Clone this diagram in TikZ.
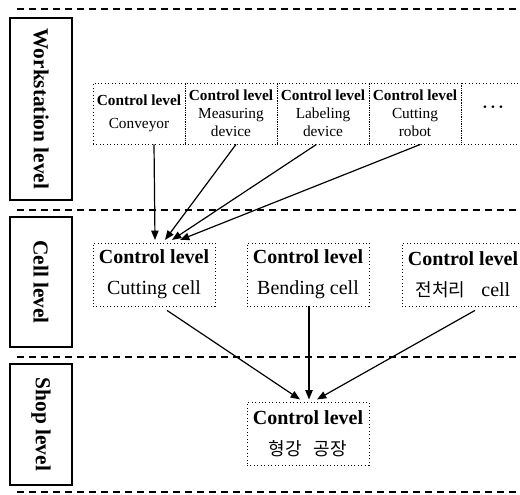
\documentclass[tikz,border=0pt]{standalone}
\usepackage{fontspec}
\setmainfont{Liberation Serif}
\newfontfamily\kofont{Noto Sans CJK KR}
\usetikzlibrary{arrows.meta}

\tikzset{
    nivel/.style={draw, line width=1.4pt, rotate=-90, minimum height=46.5pt,
        inner sep=0pt, font=\fontsize{16}{18}\selectfont\bfseries},
    wsbox/.style={draw, dotted, line width=0.6pt, minimum width=69pt,
        minimum height=45.75pt, inner sep=0pt, align=center,
        font=\fontsize{11.5}{13.5}\selectfont},
    cellbox/.style={draw, dotted, line width=0.6pt, minimum width=91.5pt,
        minimum height=47.25pt, inner sep=0pt, align=center,
        font=\fontsize{15}{23}\selectfont},
    flecha/.style={-{Triangle[length=7pt,width=5.5pt]}, line width=0.9pt},
    division/.style={dash pattern=on 5.5pt off 3.5pt, line width=0.9pt}
}
\newcommand{\ko}[1]{{\kofont\fontsize{13.5}{23}\selectfont #1}}

\begin{document}
\begin{tikzpicture}[x=0.75pt,y=-0.75pt]
    % Marco de la figura
    \useasboundingbox (0,0) rectangle (520,494);
    \clip (0,0) rectangle (520,494);

    % Líneas divisorias entre niveles
    \foreach \y in {9,210,357,492}
        \draw[division] (17,\y) -- (520,\y);

    % Rótulos de los niveles
    \node[nivel, minimum width=136.5pt] (lws) at (41,109) {Workstation level};
    \node[nivel, minimum width=97.5pt] (lcell) at (41,282) {Cell level};
    \node[nivel, minimum width=90.75pt] (lshop) at (41,424.5) {Shop level};

    % Nivel de estaciones de trabajo
    \node[wsbox] (conv) at (139,113.5) {\textbf{Control level}\\[4pt]Conveyor};
    \node[wsbox] (meas) at (231,113.5) {\textbf{Control level}\\Measuring\\device};
    \node[wsbox] (lab) at (323,113.5) {\textbf{Control level}\\Labeling\\device};
    \node[wsbox] (robot) at (415,113.5) {\textbf{Control level}\\Cutting\\robot};
    \node[wsbox, minimum width=48pt] (more) at (493,113.5)
        {\raisebox{7pt}{\large\textbf{·\,·\,·}}};

    % Nivel de celdas
    \node[cellbox] (cut) at (154,274.5) {\textbf{Control level}\\Cutting cell};
    \node[cellbox] (bend) at (308,274.5) {\textbf{Control level}\\Bending cell};
    \node[cellbox] (pre) at (463,274.5) {\textbf{Control level}\\\ko{전처리}\hspace{12pt}cell};

    % Nivel de planta
    \node[cellbox] (shop) at (308,434) {\textbf{Control level}\\\ko{형강\hspace{9pt}공장}};

    % Flechas hacia la celda de corte
    \draw[flecha] ([xshift=11.25pt]conv.south) -- ([xshift=0.75pt,yshift=2pt]cut.north);
    \draw[flecha] ([xshift=3.75pt]meas.south) -- ([xshift=8.25pt,yshift=2pt]cut.north);
    \draw[flecha] ([xshift=-4.9pt]lab.south) -- ([xshift=13.5pt,yshift=2pt]cut.north);
    \draw[flecha] ([xshift=4.1pt]robot.south) -- ([xshift=19.5pt,yshift=2pt]cut.north);

    % Flechas hacia la planta
    \draw[flecha] ([xshift=9.75pt,yshift=-3pt]cut.south) -- ([xshift=-6pt,yshift=2pt]shop.north);
    \draw[flecha] ([xshift=0.75pt]bend.south) -- ([xshift=0.75pt,yshift=2pt]shop.north);
    \draw[flecha] ([xshift=9pt,yshift=-3pt]pre.south) -- ([xshift=6.75pt,yshift=2pt]shop.north);
\end{tikzpicture}
\end{document}
